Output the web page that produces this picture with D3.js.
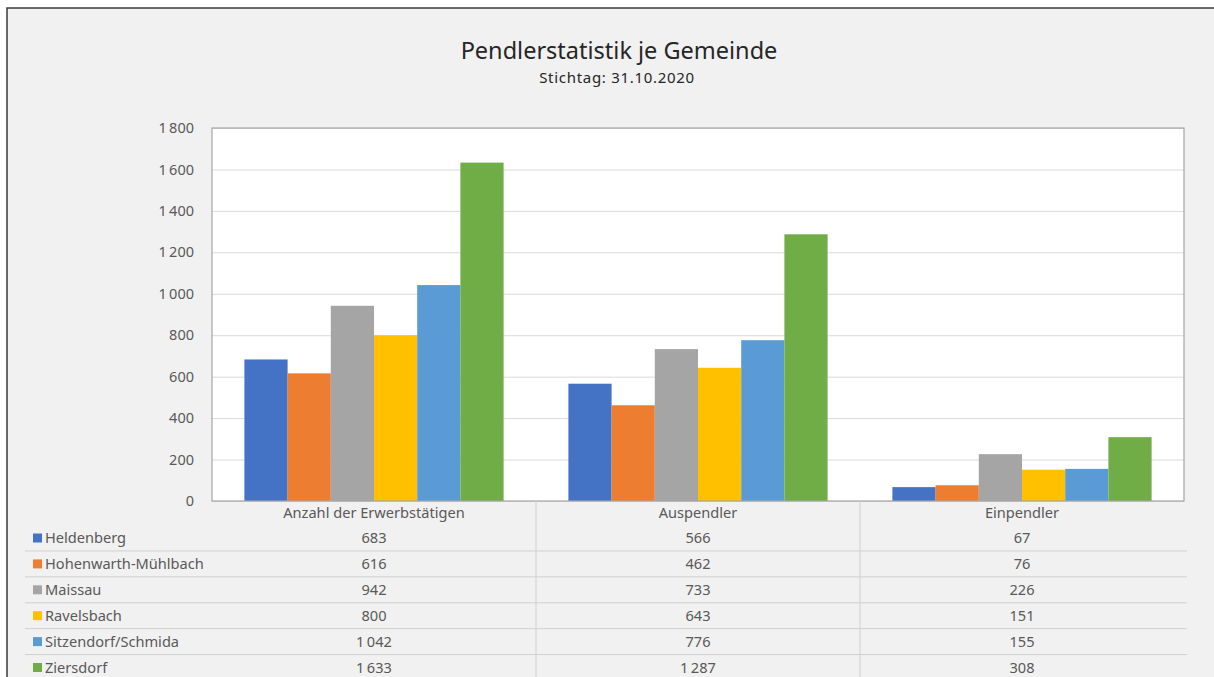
<!DOCTYPE html>
<html><head><meta charset="utf-8">
<script src="https://cdn.jsdelivr.net/npm/d3@7"></script>
<style>
html,body{margin:0;padding:0;background:#fff;}
svg{display:block;}
text{font-family:"Noto Sans","Open Sans",sans-serif;}
</style></head>
<body>
<svg id="chart" width="1214" height="677"></svg>
<script>
const categories = ["Anzahl der Erwerbstätigen", "Auspendler", "Einpendler"];
const seriesNames = ["Heldenberg", "Hohenwarth-Mühlbach", "Maissau", "Ravelsbach", "Sitzendorf/Schmida", "Ziersdorf"];
const heldenberg = [683, 566, 67];
const hohenwarth = [616, 462, 76];
const maissau = [942, 733, 226];
const ravelsbach = [800, 643, 151];
const sitzendorf = [1042, 776, 155];
const ziersdorf = [1633, 1287, 308];
const seriesValues = [heldenberg, hohenwarth, maissau, ravelsbach, sitzendorf, ziersdorf];
const colors = ["#4472C4", "#ED7D31", "#A5A5A5", "#FFC000", "#5B9BD5", "#70AD47"];
const yTicks = [0, 200, 400, 600, 800, 1000, 1200, 1400, 1600, 1800];
const title = "Pendlerstatistik je Gemeinde";
const subtitle = "Stichtag: 31.10.2020";

const locale = d3.formatLocale({decimal: ",", thousands: "\u2009", grouping: [3], currency: ["", " €"]});
const fmt = locale.format(",d");

const svg = d3.select("#chart");
// background
svg.append("rect").attr("x", 0).attr("y", 0).attr("width", 1214).attr("height", 677).attr("fill", "#ffffff");
svg.append("rect").attr("x", 7).attr("y", 8).attr("width", 1240).attr("height", 700)
  .attr("fill", "#f1f1f1").attr("stroke", "#3a3a3a").attr("stroke-width", 1.5);

const plot = {left: 212, right: 1184, top: 128, bottom: 501};
const x0 = d3.scaleBand().domain(categories).range([plot.left, plot.right]).paddingInner(0).paddingOuter(0);
const x1 = d3.scaleBand().domain(seriesNames).range([0, x0.bandwidth()]).paddingInner(0).paddingOuter(0.75);
const y = d3.scaleLinear().domain([0, 1800]).range([plot.bottom, plot.top]);

// plot area
svg.append("rect").attr("x", plot.left).attr("y", plot.top)
  .attr("width", plot.right - plot.left).attr("height", plot.bottom - plot.top)
  .attr("fill", "#ffffff");

// gridlines
const grid = svg.append("g").attr("transform", `translate(${plot.left},0)`)
  .call(d3.axisLeft(y).tickValues(yTicks).tickSize(-(plot.right - plot.left)).tickFormat(""));
grid.select(".domain").remove();
grid.selectAll("line").attr("stroke", "#d9d9d9").attr("stroke-width", 1);

// y axis labels
const yAxis = svg.append("g").attr("transform", `translate(${plot.left - 15},0)`)
  .call(d3.axisLeft(y).tickValues(yTicks).tickSize(0).tickFormat(fmt));
yAxis.select(".domain").remove();
yAxis.selectAll("text").attr("fill", "#595959").style("font-size", "14.5px")
  .style("font-family", '"Noto Sans", sans-serif');

// bars
const groups = svg.append("g").selectAll("g").data(categories).join("g")
  .attr("transform", d => `translate(${x0(d)},0)`);
groups.selectAll("rect")
  .data((c, ci) => seriesNames.map((s, si) => ({s, si, v: seriesValues[si][ci]})))
  .join("rect")
  .attr("x", d => x1(d.s))
  .attr("width", x1.bandwidth())
  .attr("y", d => y(d.v))
  .attr("height", d => y(0) - y(d.v))
  .attr("fill", d => colors[d.si]);

// plot border
svg.append("rect").attr("x", plot.left).attr("y", plot.top)
  .attr("width", plot.right - plot.left).attr("height", plot.bottom - plot.top)
  .attr("fill", "none").attr("stroke", "#a6a6a6").attr("stroke-width", 1.2);

// title
svg.append("text").attr("x", 619).attr("y", 59).attr("text-anchor", "middle")
  .attr("fill", "#262626").style("font-size", "23.5px").text(title);
svg.append("text").attr("x", 617).attr("y", 83).attr("text-anchor", "middle")
  .attr("fill", "#262626").style("font-size", "15px").style("letter-spacing", "0.7px").text(subtitle);

// data table
const rowY0 = 538, rowH = 25.9;
const fs = "14.6px";
const table = svg.append("g");
// vertical separators
[1, 2].forEach(i => {
  const xx = x0(categories[i]);
  table.append("line").attr("x1", xx).attr("x2", xx).attr("y1", plot.bottom).attr("y2", 677)
    .attr("stroke", "#d0d0d0").attr("stroke-width", 1);
});
// horizontal separators
for (let i = 0; i < seriesNames.length - 1; i++) {
  const yy = rowY0 + rowH * (i + 0.5);
  table.append("line").attr("x1", 25).attr("x2", 1187).attr("y1", yy).attr("y2", yy)
    .attr("stroke", "#d0d0d0").attr("stroke-width", 1);
}
// header
table.selectAll("text.cat").data(categories).join("text").attr("class", "cat")
  .attr("x", d => x0(d) + x0.bandwidth() / 2).attr("y", 513).attr("dy", "0.35em")
  .attr("text-anchor", "middle").attr("fill", "#595959").style("font-size", fs).text(d => d);
// rows
seriesNames.forEach((s, si) => {
  const yy = rowY0 + rowH * si;
  table.append("rect").attr("x", 33).attr("y", yy - 4.5).attr("width", 9).attr("height", 9).attr("fill", colors[si]);
  table.append("text").attr("x", 45).attr("y", yy).attr("dy", "0.35em")
    .attr("fill", "#595959").style("font-size", fs).text(s);
  categories.forEach((c, ci) => {
    table.append("text").attr("x", x0(c) + x0.bandwidth() / 2).attr("y", yy).attr("dy", "0.35em")
      .attr("text-anchor", "middle").attr("fill", "#595959").style("font-size", fs)
      .text(fmt(seriesValues[si][ci]));
  });
});
</script>
</body></html>
